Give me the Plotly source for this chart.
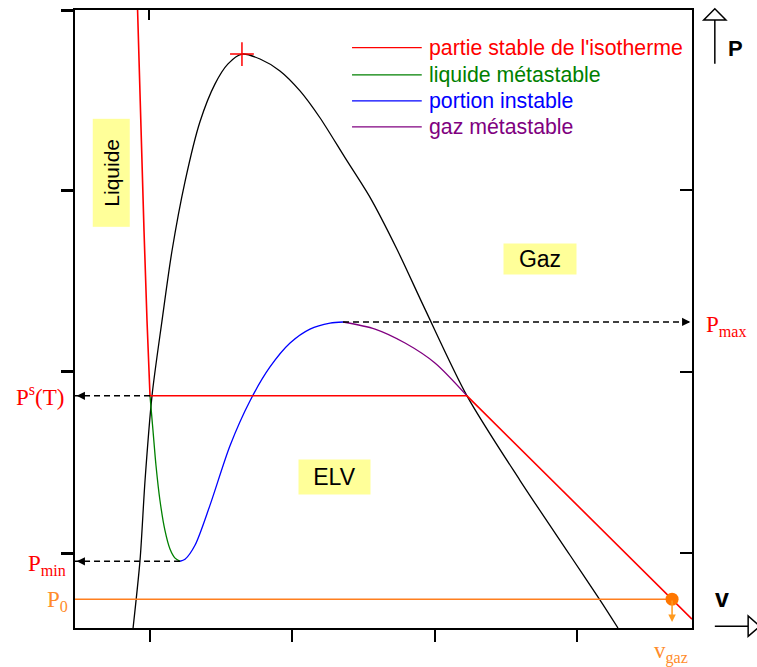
import plotly.graph_objects as go

# ---- data (arbitrary units: molar volume v, pressure P) ----
v_stable = [0.911, 0.930, 0.958, 0.979, 1.000, 3.227, 3.600, 4.021, 4.443, 4.668, 4.808]
p_stable = [4.040, 3.489, 2.775, 2.280, 1.868, 1.868, 1.577, 1.247, 0.918, 0.747, 0.637]

v_liq_meta = [1.000, 1.021, 1.042, 1.070, 1.105, 1.141, 1.176, 1.211]
p_liq_meta = [1.868, 1.676, 1.484, 1.291, 1.126, 1.022, 0.973, 0.956]

v_unstable = [1.211, 1.246, 1.316, 1.421, 1.562, 1.703, 1.843, 1.984, 2.124, 2.265, 2.356]
p_unstable = [0.956, 0.967, 1.044, 1.264, 1.593, 1.841, 2.027, 2.159, 2.236, 2.269, 2.275]

v_gas_meta = [2.356, 2.581, 2.792, 3.002, 3.227]
p_gas_meta = [2.275, 2.236, 2.159, 2.049, 1.868]

v_dome = [0.881, 0.930, 0.965, 1.014, 1.084, 1.154, 1.246, 1.351, 1.457, 1.548, 1.646,
          1.773, 1.913, 2.054, 2.194, 2.370, 2.546, 2.735, 2.932, 3.227, 3.600, 3.951, 4.162, 4.288]
p_dome = [0.588, 0.962, 1.401, 1.868, 2.280, 2.665, 3.049, 3.379, 3.588, 3.698, 3.752,
          3.725, 3.659, 3.549, 3.401, 3.181, 2.962, 2.676, 2.346, 1.868, 1.401, 0.989, 0.742, 0.588]

v_crit, p_crit = 1.646, 3.752
p_sat = 1.868
p_max, v_pmax = 2.275, 2.356
p_min, v_pmin = 0.956, 1.211
p_0, v_gaz = 0.747, 4.668

x_range = [0.473, 4.808]
y_range = [0.588, 3.995]
x_ticks = [1, 2, 3, 4]
y_ticks = [1, 2, 3, 3.994]

legend_names = ["partie stable de l'isotherme", "liquide métastable", "portion instable", "gaz métastable"]
legend_colors = ["#FF0000", "#008000", "#0000FF", "#800080"]

ORANGE = "#FF7F1E"

fig = go.Figure()

fig.add_trace(go.Scatter(x=v_dome, y=p_dome, mode="lines", line=dict(color="black", width=1.3, shape="spline", smoothing=0.8), showlegend=False))
fig.add_trace(go.Scatter(x=v_liq_meta, y=p_liq_meta, mode="lines", line=dict(color=legend_colors[1], width=1.3, shape="spline", smoothing=0.8), showlegend=False))
fig.add_trace(go.Scatter(x=v_unstable, y=p_unstable, mode="lines", line=dict(color=legend_colors[2], width=1.3, shape="spline", smoothing=0.8), showlegend=False))
fig.add_trace(go.Scatter(x=v_gas_meta, y=p_gas_meta, mode="lines", line=dict(color=legend_colors[3], width=1.3, shape="spline", smoothing=0.8), showlegend=False))
fig.add_trace(go.Scatter(x=v_stable, y=p_stable, mode="lines", line=dict(color=legend_colors[0], width=1.6), showlegend=False))

# dashed guide lines
fig.add_trace(go.Scatter(x=[v_stable[4], x_range[0]], y=[p_sat, p_sat], mode="lines", line=dict(color="black", width=1.5, dash="6px,4px"), showlegend=False))
fig.add_trace(go.Scatter(x=[v_pmin, x_range[0]], y=[p_min, p_min], mode="lines", line=dict(color="black", width=1.5, dash="6px,4px"), showlegend=False))
fig.add_trace(go.Scatter(x=[v_pmax, x_range[1]], y=[p_max, p_max], mode="lines", line=dict(color="black", width=1.5, dash="6px,4px"), showlegend=False))

# P0 line and point
fig.add_trace(go.Scatter(x=[x_range[0], v_gaz], y=[p_0, p_0], mode="lines", line=dict(color=ORANGE, width=1.5), showlegend=False))
fig.add_trace(go.Scatter(x=[v_gaz], y=[p_0], mode="markers", marker=dict(color="#FF7700", size=13), showlegend=False))

# critical point
fig.add_trace(go.Scatter(x=[v_crit], y=[p_crit], mode="markers",
                         marker=dict(symbol="cross-thin", size=17, line=dict(color="red", width=1.5)), showlegend=False))

# secondary axes for inward mirrored ticks
fig.add_trace(go.Scatter(x=[None], y=[None], xaxis="x2", yaxis="y2", showlegend=False))

annotations = []
# arrow heads for the dashed guides
for xt, yt, axp in [(x_range[0] + 0.012, p_sat, 8), (x_range[0] + 0.012, p_min, 8), (x_range[1] - 0.012, p_max, -8)]:
    annotations.append(dict(x=xt, y=yt, xref="x", yref="y", ax=axp, ay=0, text="", showarrow=True,
                            arrowhead=2, arrowsize=1.1, arrowwidth=1.5, arrowcolor="black"))
# orange arrow down
annotations.append(dict(x=v_gaz, y=0.621, xref="x", yref="y", ax=0, ay=-23, text="", showarrow=True,
                        arrowhead=2, arrowsize=1, arrowwidth=1.5, arrowcolor="#FF9A1E"))

serif = dict(family="Liberation Serif", size=23, color="red")
annotations += [
    dict(x=-0.0146, y=p_sat, xref="paper", yref="y", text="P<sup>s</sup>(T)", showarrow=False,
         xanchor="right", yanchor="middle", font=serif),
    dict(x=-0.011, y=p_min, xref="paper", yref="y", text="P<sub>min</sub>", showarrow=False,
         xanchor="right", yanchor="middle", yshift=-4, font=serif),
    dict(x=1.019, y=p_max, xref="paper", yref="y", text="P<sub>max</sub>", showarrow=False,
         xanchor="left", yanchor="middle", yshift=-4, font=serif),
    dict(x=-0.008, y=p_0, xref="paper", yref="y", text="P<sub>0</sub>", showarrow=False,
         xanchor="right", yanchor="middle", yshift=-2, font=dict(family="Liberation Serif", size=23, color="#FF8C2A")),
    dict(x=0.966, y=-0.039, xref="paper", yref="paper", text="v<sub>gaz</sub>", showarrow=False,
         xanchor="center", yanchor="middle", font=dict(family="Liberation Serif", size=23, color="#FF8C2A")),
    dict(x=1.049, y=0.048, xref="paper", yref="paper", text="<b>v</b>", showarrow=False,
         xanchor="center", yanchor="middle", font=dict(family="Liberation Sans", size=25, color="black")),
    dict(x=1.070, y=0.937, xref="paper", yref="paper", text="<b>P</b>", showarrow=False,
         xanchor="center", yanchor="middle", font=dict(family="Liberation Sans", size=22, color="black")),
]

# region labels
box = "#FFFF99"
annotations += [
    dict(x=0.754, y=0.597, xref="paper", yref="paper", text="Gaz", showarrow=False, bgcolor=box,
         xanchor="center", yanchor="middle",
         width=72, height=30, borderpad=0, font=dict(family="Liberation Sans", size=23, color="black")),
    dict(x=0.421, y=0.244, xref="paper", yref="paper", text="ELV", showarrow=False, bgcolor=box,
         xanchor="center", yanchor="middle",
         width=71, height=34, borderpad=0, font=dict(family="Liberation Sans", size=23, color="black")),
    dict(x=0.058, y=0.737, xref="paper", yref="paper", text="Liquide", showarrow=False, bgcolor=box,
         xanchor="center", yanchor="middle",
         width=107, height=36, borderpad=0, textangle=-90, font=dict(family="Liberation Sans", size=21, color="black")),
]

# custom legend
leg_y = [0.939, 0.895, 0.853, 0.811]
shapes = []
for name, col, ly in zip(legend_names, legend_colors, leg_y):
    shapes.append(dict(type="line", xref="paper", yref="paper", x0=0.449, x1=0.562, y0=ly, y1=ly,
                       line=dict(color=col, width=1.3)))
    annotations.append(dict(x=0.571, y=ly, xref="paper", yref="paper", text=name, showarrow=False,
                            xanchor="left", yanchor="middle", font=dict(family="Liberation Sans", size=21.3, color=col)))

# axis arrows (P up, v right)
shapes += [
    dict(type="line", xref="paper", yref="paper", x0=1.037, x1=1.037, y0=0.913, y1=0.984, line=dict(color="black", width=1.5)),
    dict(type="path", xref="paper", yref="paper", path="M 1.019 0.984 L 1.055 0.984 L 1.037 1.002 Z",
         line=dict(color="black", width=1.5), fillcolor="white"),
    dict(type="line", xref="paper", yref="paper", x0=1.037, x1=1.091, y0=0.003, y1=0.003, line=dict(color="black", width=1.5)),
    dict(type="path", xref="paper", yref="paper", path="M 1.091 0.0195 L 1.091 -0.0135 L 1.110 0.003 Z",
         line=dict(color="black", width=1.5), fillcolor="white"),
]

fig.update_layout(
    width=757, height=667,
    margin=dict(l=75, r=65, t=8, b=39),
    plot_bgcolor="white", paper_bgcolor="white",
    showlegend=False,
    annotations=annotations,
    shapes=shapes,
    xaxis=dict(range=x_range, showgrid=False, zeroline=False, showline=True, linecolor="black", linewidth=2,
               mirror=True, ticks="outside", tickvals=x_ticks, ticklen=12, tickwidth=2, tickcolor="black",
               showticklabels=False),
    yaxis=dict(range=y_range, showgrid=False, zeroline=False, showline=True, linecolor="black", linewidth=2,
               mirror=True, ticks="outside", tickvals=y_ticks, ticklen=12, tickwidth=3, tickcolor="black",
               showticklabels=False),
    xaxis2=dict(range=x_range, overlaying="x", side="top", showgrid=False, zeroline=False, showline=False,
                ticks="inside", tickvals=[0.99], ticklen=10, tickwidth=2, tickcolor="black", showticklabels=False),
    yaxis2=dict(range=y_range, overlaying="y", side="right", showgrid=False, zeroline=False, showline=False,
                ticks="inside", tickvals=[1, 2, 3], ticklen=12, tickwidth=2, tickcolor="black", showticklabels=False),
)

fig.write_html("out.html", config={"displayModeBar": False},
               post_script="document.body.style.margin='0';document.body.style.overflow='hidden';")
